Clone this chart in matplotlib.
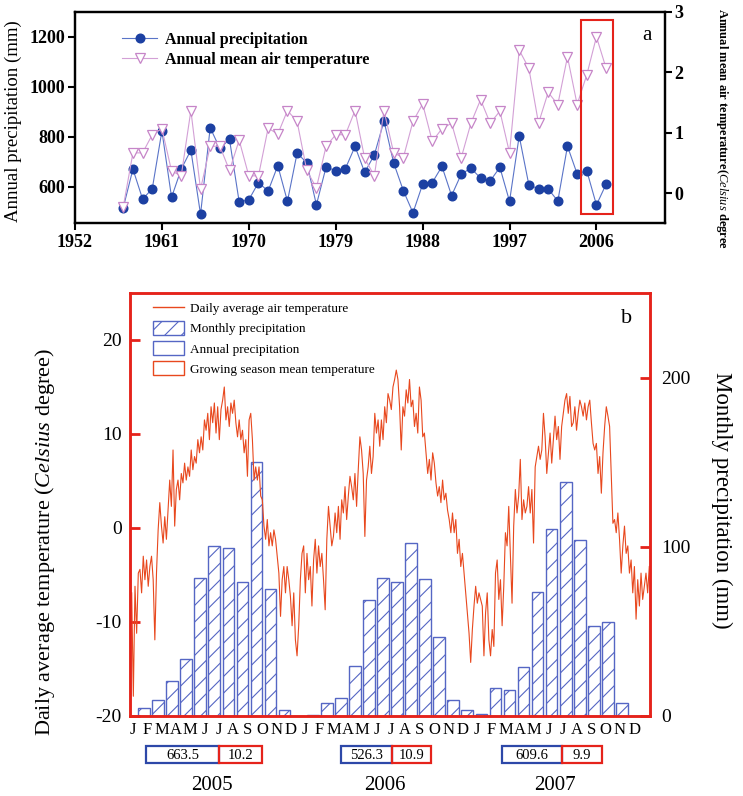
import numpy as np
import matplotlib
matplotlib.use('Agg')
import matplotlib.pyplot as plt
from matplotlib.patches import Rectangle, Patch
from matplotlib.lines import Line2D

plt.rcParams['font.family'] = ['Liberation Serif', 'DejaVu Serif']
plt.rcParams['mathtext.fontset'] = 'custom'
plt.rcParams['mathtext.rm'] = 'Liberation Serif'
plt.rcParams['mathtext.it'] = 'Liberation Serif:italic'
plt.rcParams['mathtext.bf'] = 'Liberation Serif:bold'
plt.rcParams['hatch.linewidth'] = 0.8
plt.rcParams['axes.unicode_minus'] = False

# ---------------- data: panel a ----------------
years_a = list(range(1957, 2008))
annual_precip = [516, 670, 550, 591, 823, 557, 670, 746, 489, 836,
                 753, 789, 539, 547, 616, 582, 684, 541, 734, 696,
                 527, 678, 664, 672, 761, 657, 727, 863, 695, 584,
                 495, 609, 616, 681, 564, 650, 674, 634, 623, 677,
                 541, 803, 607, 591, 591, 542, 762, 651, 663.5, 526.3, 609.6]
annual_temp = [-0.22, 0.67, 0.67, 0.97, 1.07, 0.37, 0.29, 1.37, 0.07, 0.78,
               0.78, 0.38, 0.88, 0.29, 0.29, 1.08, 0.98, 1.37, 1.19, 0.38,
               0.09, 0.78, 0.97, 0.97, 1.37, 0.58, 0.29, 1.37, 0.67, 0.59,
               1.19, 1.48, 0.86, 1.07, 1.16, 0.59, 1.16, 1.55, 1.16, 1.36,
               0.67, 2.37, 2.07, 1.16, 1.67, 1.47, 2.26, 1.47, 1.96, 2.59, 2.07]
highlight_years = [2005, 2007]
xticks_a = list(range(1952, 2007, 9))

# ---------------- data: panel b ----------------
years_b = [2005, 2006, 2007]
month_letters = ['J', 'F', 'M', 'A', 'M', 'J', 'J', 'A', 'S', 'O', 'N', 'D']
monthly_precip = [4.9, 9.5, 20.7, 33.5, 81.4, 100.7, 99.1, 79.0, 150.3, 74.9, 3.5, 0.0,
                  0.6, 7.5, 10.4, 29.7, 68.6, 81.8, 79.4, 102.0, 80.8, 46.9, 9.5, 3.5,
                  1.0, 16.4, 15.4, 28.8, 73.5, 110.5, 138.1, 104.0, 53.2, 55.7, 7.5, 0.0]
annual_precip_b = ['663.5', '526.3', '609.6']
gs_mean_temp = ['10.2', '10.9', '9.9']
daily_temp = [
    -6.9, -17.9, -6.2, -11.2, -4.8, -4.4, -6.9, -3.0, -5.5, -3.4,
    -6.2, -4.1, -3.0, -5.5, -11.9, -4.8, -0.2, 2.7, 0.2, -1.6,
    1.2, -1.2, 1.9, 5.1, 2.3, 8.3, 0.2, 4.1, 5.1, 3.0,
    5.8, 4.8, 6.9, 5.1, 6.5, 5.5, 8.3, 6.2, 7.6, 6.9,
    9.4, 8.0, 9.7, 8.3, 11.5, 10.4, 12.2, 9.4, 12.9, 11.2,
    13.3, 10.1, 12.9, 9.4, 12.6, 13.6, 15.0, 11.5, 12.9, 10.8,
    13.3, 12.2, 13.6, 11.2, 9.7, 11.5, 9.4, 10.4, 8.0, 9.4,
    5.5, 11.5, 12.2, 9.4, 5.1, 6.5, 5.1, 6.5, 3.4, 3.0,
    0.2, -1.2, 0.9, -1.9, -0.5, -1.9, -0.2, -1.2, -3.0, -4.8,
    -9.4, -5.5, -4.1, -6.9, -4.1, -5.5, -7.3, -10.4, -6.9, -11.9,
    -13.6, -10.4, -5.5, -2.7,
    -1.9, -6.9, -2.7, -5.5, -4.1, -8.3, -3.4, -1.2, -4.8, -1.9,
    -4.1, -2.7, -5.5, -8.7, -1.2, 2.3, 0.2, -1.9, -0.9, 1.6,
    -0.5, 2.3, -1.2, 3.0, 1.6, 4.4, 0.9, 3.4, 5.5, 4.4,
    3.0, 5.8, 2.3, 6.2, 9.7, 8.3, 5.8, -0.9, 5.1, 6.5,
    8.7, 5.8, 7.6, 12.2, 10.1, 11.5, 8.7, 11.5, 9.4, 12.9,
    11.2, 14.3, 13.6, 12.6, 15.0, 15.8, 16.8, 15.8, 12.9, 8.3,
    12.9, 11.9, 14.7, 13.3, 15.8, 12.9, 13.6, 10.8, 12.2, 10.1,
    15.0, 13.6, 9.7, 10.1, 8.0, 5.8, 7.3, 5.1, 8.0, 6.9,
    4.8, 3.4, 4.4, 2.7, 5.1, 3.0, 3.7, 1.9, 0.9, -0.5,
    1.6, -0.5, 0.9, -2.7, -1.2, -4.1, -2.7, -4.8, -6.9, -9.0,
    -11.2, -14.3, -10.8, -8.3, -6.2, -8.0, -6.9, -7.6,
    -8.3, -13.6, -9.0, -6.9, -11.9, -13.6, -10.8, -12.6, -4.8, -3.4,
    -7.6, -5.5, -10.4, -6.2, -0.5, -1.9, 2.3, -2.7, -8.0, 0.2,
    4.1, 1.6, 3.4, 7.3, 0.9, 3.0, 1.6, 2.3, 4.4, 1.6,
    4.1, -1.6, 6.5, 7.6, 8.7, 7.3, 8.3, 12.2, 9.7, 5.8,
    8.0, 10.1, 6.9, 9.4, 11.9, 9.4, 10.8, 7.3, 10.8, 12.2,
    13.6, 14.3, 12.2, 14.0, 10.8, 11.2, 12.9, 10.4, 12.2, 13.6,
    12.9, 11.9, 13.3, 11.5, 12.9, 13.6, 11.2, 9.0, 8.3, 9.0,
    5.8, 7.6, 3.7, 8.0, 10.8, 12.9, 11.9, 10.8, 5.8, 0.5,
    0.9, -0.5, 1.6, -1.2, -4.8, -1.9, 0.2, -2.7, -1.9, -4.8,
    -3.4, -6.9, -4.1, -9.7, -5.5, -8.3, -4.8, -7.6, -6.2, -4.8,
    -6.9, -4.1]

# ---------------- styles ----------------
W, H = 743, 796
RED = '#e5231b'
TCOL = '#e8481e'
BBAR = '#5566c4'
BBOX = '#2d48a8'
BLUE_PT = '#1c40a2'
BLUE_LN = '#5a74c8'
PINK = '#c685c8'
PINK_LN = '#d3a0d6'


def fx(px):
    return px / W


def fy(py):
    return 1 - py / H


fig = plt.figure(figsize=(W / 100, H / 100), dpi=100)

# ================= panel a =================
ax_a = fig.add_axes([fx(75), fy(223), 590 / W, 211 / H])
ax_a2 = ax_a.twinx()

l1, = ax_a.plot(years_a, annual_precip, '-o', color=BLUE_LN, lw=0.8,
                mfc=BLUE_PT, mec=BLUE_PT, ms=6.2, label='Annual precipitation')
l2, = ax_a2.plot(years_a, annual_temp, '-v', color=PINK_LN, lw=0.8,
                 mfc='white', mec=PINK, mew=0.9, ms=7.2,
                 label='Annual mean air temperature')

ax_a.set_xlim(1952, 2013.1)
ax_a.set_ylim(454, 1300)
ax_a2.set_ylim(-0.49, 3.0)
ax_a.set_xticks(xticks_a)
ax_a.set_yticks([600, 800, 1000, 1200])
ax_a2.set_yticks([0, 1, 2, 3])
for ax in (ax_a, ax_a2):
    for s in ax.spines.values():
        s.set_linewidth(1.6)
        s.set_color('black')
    ax.tick_params(direction='out', length=5, width=1.5, labelsize=13, pad=2)
for lab in ax_a.get_xticklabels() + ax_a.get_yticklabels() + ax_a2.get_yticklabels():
    lab.set_fontweight('bold')
ax_a.tick_params(axis='x', pad=3)

ax_a2.add_patch(Rectangle((highlight_years[0] - 0.6, -0.34),
                          highlight_years[1] - highlight_years[0] + 1.3, 3.2,
                          fill=False, ec=RED, lw=1.5, zorder=5))

leg_a = ax_a2.legend([l1, l2], [l1.get_label(), l2.get_label()],
                     loc='upper left', bbox_to_anchor=(0.08, 0.905),
                     frameon=False, prop={'weight': 'bold', 'size': 11.5},
                     handlelength=2.2, handletextpad=0.45, labelspacing=0.25,
                     borderpad=0, borderaxespad=0)
ax_a2.text(0.97, 0.89, 'a', transform=ax_a2.transAxes, fontsize=15,
           ha='center', va='center')

fig.text(fx(13), fy(121), 'Annual precipitation (mm)', rotation=90,
         ha='center', va='center', fontsize=13.5)
fig.text(fx(722), fy(8), r'Annual mean air temperature($\mathit{Celsius}$ degree',
         rotation=-90, ha='center', va='top', fontsize=9, fontweight='bold')

# ================= panel b =================
ax_b = fig.add_axes([fx(130), fy(716), 520 / W, 423 / H])
ax_b2 = ax_b.twinx()
ax_b.set_zorder(ax_b2.get_zorder() + 1)
ax_b.patch.set_visible(False)

months_idx = np.arange(len(monthly_precip))
ax_b2.bar(months_idx, monthly_precip, width=0.83, facecolor='none',
          edgecolor=BBAR, hatch='//', lw=1.0)

t_x = np.linspace(-0.88, 35.95, len(daily_temp))
ax_b.plot(t_x, daily_temp, color=TCOL, lw=0.8)

ax_b.set_xlim(-1, 36)
ax_b.set_ylim(-20, 25)
ax_b2.set_ylim(0, 250)
ax_b.set_yticks([-20, -10, 0, 10, 20])
ax_b2.set_yticks([0, 100, 200])
letter_pos = np.arange(36) * 1.019 - 0.78
ax_b.set_xticks(letter_pos, month_letters * 3)
ax_b.tick_params(axis='x', length=0, labelsize=12, pad=4)
ax_b.tick_params(axis='y', direction='in', length=7, width=2, color=RED,
                 labelsize=14, pad=6)
ax_b2.tick_params(axis='y', direction='in', length=7, width=2, color=RED,
                  labelsize=14, pad=8)
for ax in (ax_b, ax_b2):
    for s in ax.spines.values():
        s.set_color(RED)
        s.set_linewidth(1.8)

handles_b = [Line2D([], [], color=TCOL, lw=1.0),
             Patch(facecolor='none', edgecolor=BBAR, hatch='//', lw=1.0),
             Patch(facecolor='none', edgecolor=BBAR, lw=1.0),
             Patch(facecolor='none', edgecolor=TCOL, lw=1.0)]
labels_b = ['Daily average air temperature', 'Monthly precipitation',
            'Annual precipitation', 'Growing season mean temperature']
ax_b.legend(handles_b, labels_b, loc='upper left', bbox_to_anchor=(0.044, 0.981),
            frameon=False, fontsize=9.5, handlelength=2.35, handleheight=1.2,
            handletextpad=0.45, labelspacing=0.45, borderpad=0, borderaxespad=0)
ax_b.text(0.955, 0.94, 'b', transform=ax_b.transAxes, fontsize=16,
          ha='center', va='center')

fig.text(fx(45), fy(542), r'Daily average temperature ($\mathit{Celsius}$ degree)',
         rotation=90, ha='center', va='center', fontsize=16)
fig.text(fx(722), fy(500), 'Monthly precipitation (mm)', rotation=-90,
         ha='center', va='center', fontsize=16.5)

# summary boxes under panel b
box_px = [(146, 219, 262), (341, 392, 431), (502, 562, 602)]
year_px = [212, 385, 555]
y0, y1 = 746, 763
for (xa, xb, xc), ap, gt, yr, ypx in zip(box_px, annual_precip_b, gs_mean_temp,
                                         years_b, year_px):
    fig.add_artist(Rectangle((fx(xa), fy(y1)), fx(xb) - fx(xa), fy(y0) - fy(y1),
                             transform=fig.transFigure, fill=False, ec=BBOX, lw=1.6))
    fig.add_artist(Rectangle((fx(xb), fy(y1)), fx(xc) - fx(xb), fy(y0) - fy(y1),
                             transform=fig.transFigure, fill=False, ec=RED, lw=1.6))
    fig.text(fx((xa + xb) / 2), fy((y0 + y1) / 2 + 1), ap, ha='center', va='center',
             fontsize=10.5)
    fig.text(fx((xb + xc) / 2), fy((y0 + y1) / 2 + 1), gt, ha='center', va='center',
             fontsize=10.5)
    fig.text(fx(ypx), fy(785), str(yr), ha='center', va='center', fontsize=15)

fig.savefig('out.png', dpi=100)
